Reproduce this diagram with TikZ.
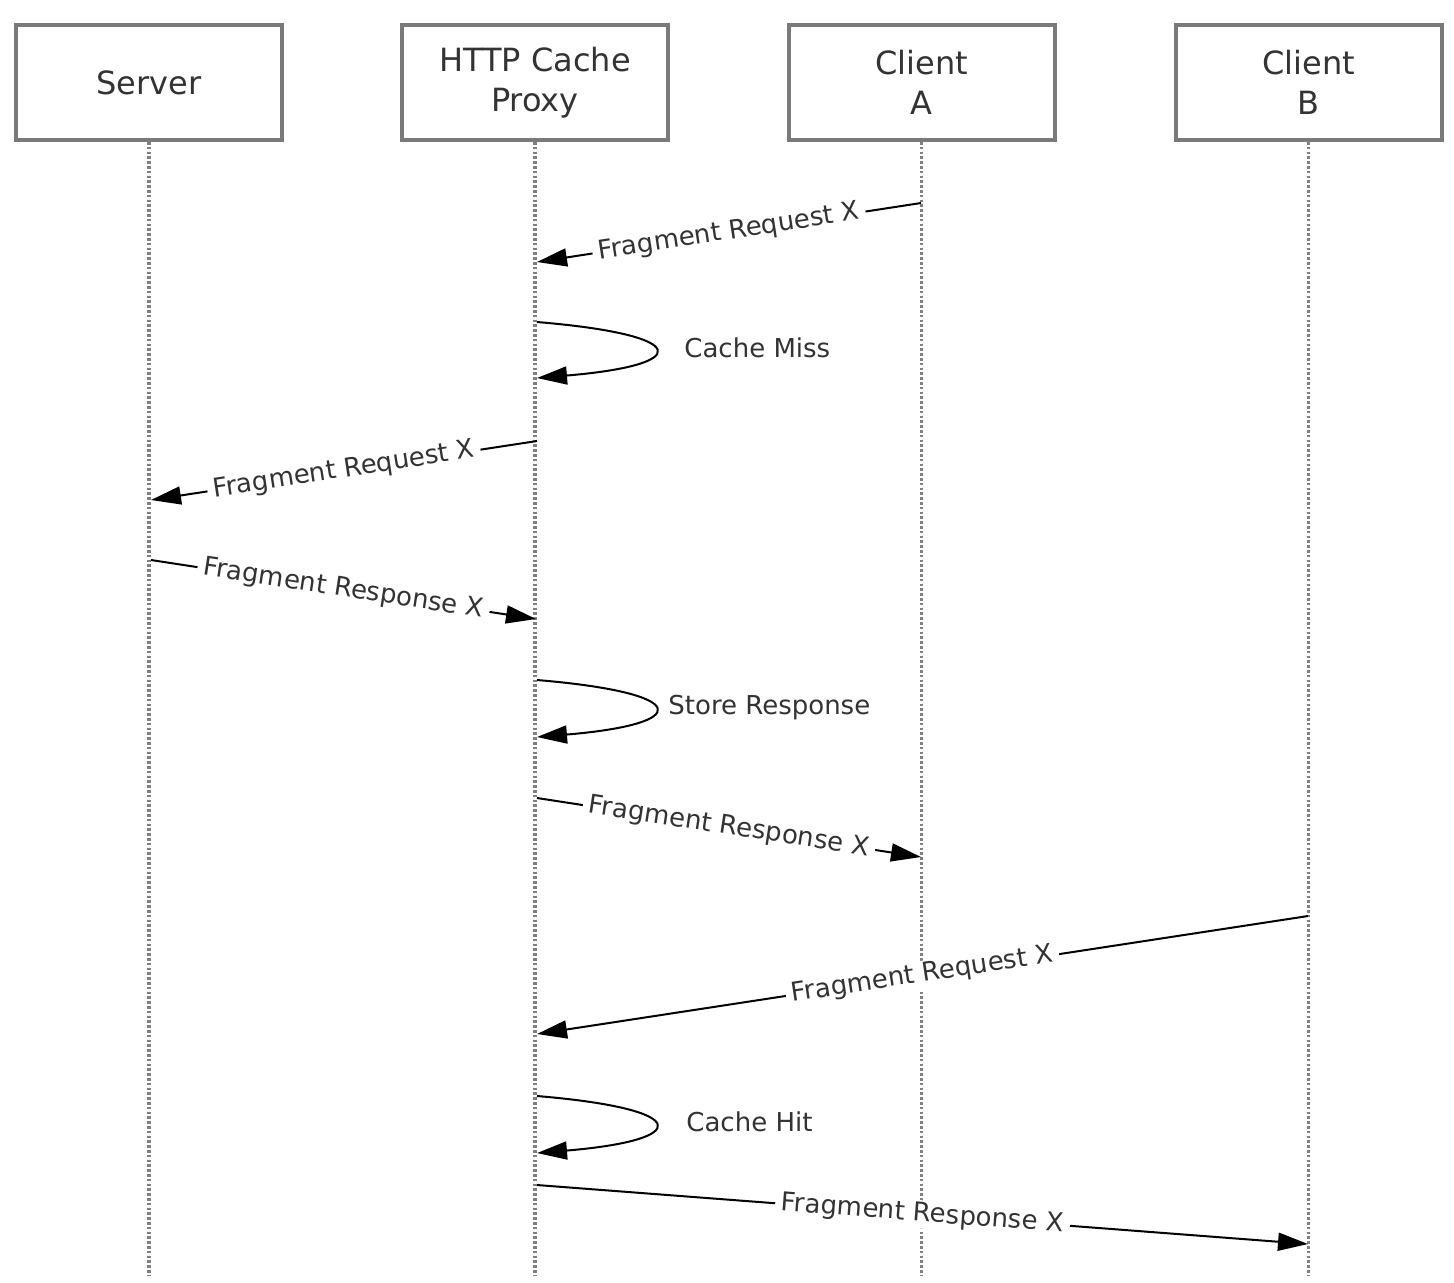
\documentclass[tikz,border=0pt]{standalone}
\usepackage{fontspec}
\setmainfont{DejaVu Sans}
\usetikzlibrary{arrows.meta}
\definecolor{txt}{HTML}{333333}
\definecolor{boxline}{HTML}{7A7A7A}
\definecolor{lifeline}{HTML}{808080}
\tikzset{
  actor/.style={draw=boxline, line width=2pt, fill=white, minimum width=133pt, minimum height=57.5pt,
    align=center, text=txt, font=\fontsize{16pt}{20pt}\selectfont, inner sep=0pt},
  lifel/.style={draw=lifeline, line width=1.7pt, dash pattern=on 1.3pt off 1.1pt},
  msg/.style={draw=black, line width=1pt, -{Triangle[length=15pt,width=9pt]}},
  lbl/.style={sloped, fill=white, text=txt, inner xsep=3pt, inner ysep=1pt,
    font=\fontsize{13pt}{16pt}\selectfont},
  looplbl/.style={anchor=west, text=txt, inner sep=0pt, font=\fontsize{13pt}{16pt}\selectfont},
}
\begin{document}
\begin{tikzpicture}[x=0.5pt, y=-0.5pt]
\useasboundingbox[fill=white] (0,0) rectangle (1454,1282);

% actors
\node[actor] (server) at (149,82.5) {Server};
\node[actor] (proxy) at (535,82.5) {HTTP Cache\\Proxy};
\node[actor] (clienta) at (921.5,82.5) {Client\\A};
\node[actor] (clientb) at (1308.5,82.5) {Client\\B};

% lifeline ends
\coordinate (serverEnd) at (149,1275);
\coordinate (proxyEnd) at (536,1275);
\coordinate (clientaEnd) at (922,1275);
\coordinate (clientbEnd) at (1309,1275);

\draw[lifel] (server.south) -- (server.south |- serverEnd);
\draw[lifel] (proxy.south) -- (proxy.south |- proxyEnd);
\draw[lifel] (clienta.south) -- (clienta.south |- clientaEnd);
\draw[lifel] (clientb.south) -- (clientb.south |- clientbEnd);

% message points
\coordinate (a1) at (921,203);  \coordinate (p1) at (537,262);
\coordinate (p2s) at (537,322); \coordinate (p2e) at (537,378);
\coordinate (p3) at (537,441);  \coordinate (s3) at (151,500);
\coordinate (s4) at (151,560);  \coordinate (p4) at (536,619);
\coordinate (p5s) at (537,680); \coordinate (p5e) at (537,737);
\coordinate (p6) at (537,798);  \coordinate (a6) at (921,857);
\coordinate (b7) at (1308,916); \coordinate (p7) at (537,1034);
\coordinate (p8s) at (537,1096);\coordinate (p8e) at (537,1153);
\coordinate (p9) at (537,1185); \coordinate (b9) at (1308,1244);

% messages
\draw[msg] (a1) -- node[lbl] {Fragment Request X} (p1);
\draw[msg] (p2s) .. controls (693,335) and (693,365) .. (p2e);
\node[looplbl] (l2) at (684,348) {Cache Miss};
\draw[msg] (p3) -- node[lbl] {Fragment Request X} (s3);
\draw[msg] (s4) -- node[lbl] {Fragment Response X} (p4);
\draw[msg] (p5s) .. controls (693,693) and (693,724) .. (p5e);
\node[looplbl] (l5) at (668,708) {Store Response};
\draw[msg] (p6) -- node[lbl] {Fragment Response X} (a6);
\draw[msg] (b7) -- node[lbl] {Fragment Request X} (p7);
\draw[msg] (p8s) .. controls (693,1109) and (693,1140) .. (p8e);
\node[looplbl] (l8) at (686,1122) {Cache Hit};
\draw[msg] (p9) -- node[lbl] {Fragment Response X} (b9);
\end{tikzpicture}
\end{document}
